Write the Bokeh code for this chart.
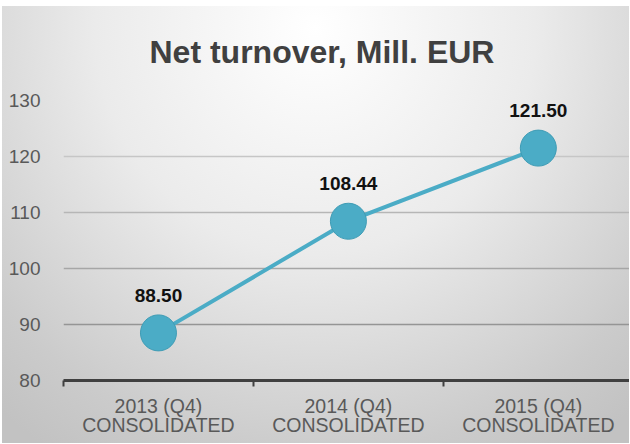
from bokeh.plotting import figure
from bokeh.models import (ColumnDataSource, Range1d, FixedTicker, LabelSet, Title, Grid)
from bokeh.core.properties import value
from bokeh.embed import file_html
from bokeh.resources import INLINE

# ---- data ----
categories = ["2013 (Q4)\nCONSOLIDATED", "2014 (Q4)\nCONSOLIDATED", "2015 (Q4)\nCONSOLIDATED"]
values = [88.50, 108.44, 121.50]
y_ticks = [80, 90, 100, 110, 120, 130]
title_text = "Net turnover, Mill. EUR"

xs = [i + 0.5 for i in range(len(categories))]
labels = [f"{v:.2f}" for v in values]
src = ColumnDataSource(dict(x=xs, y=values, label=labels))

FONT = "Liberation Sans"

p = figure(width=629, height=443, output_backend="svg", toolbar_location=None,
           x_range=Range1d(0, 2.98), y_range=Range1d(80, 130),
           min_border_left=63, min_border_right=0, min_border_bottom=63,
           min_border_top=99)
p.title = None
t = Title(text=title_text, align="left", text_font=FONT, text_font_size="32px",
          text_font_style="bold", text_color="#404040", standoff=62, offset=86)
p.add_layout(t, "above")

p.background_fill_alpha = 0
p.border_fill_alpha = 0
p.outline_line_color = None
p.styles = {
    "background": "radial-gradient(ellipse 78% 115% at 50% 5%, #ffffff 0%, #ebebeb 45%, #cbcbcb 85%, #c2c2c2 100%) 2px 6px / calc(100% - 2px) calc(100% - 6px) no-repeat, #ffffff",
}

# grid: one line per tick, darker toward the bottom as in the reference
p.xgrid.visible = False
p.ygrid.visible = False
grid_colors = {90: "#959595", 100: "#a6a6a6", 110: "#b6b6b6", 120: "#c6c6c6", 130: "#d6d6d6"}
for tk in y_ticks[1:]:
    g = Grid(dimension=1, ticker=FixedTicker(ticks=[tk]),
             grid_line_color=grid_colors[tk], grid_line_width=1.5)
    p.add_layout(g, "center")

# x axis
xa = p.xaxis[0]
xa.ticker = FixedTicker(ticks=xs, minor_ticks=[0, 1, 2])
xa.major_label_overrides = {x: c for x, c in zip(xs, categories)}
xa.major_tick_out = 0
xa.major_tick_in = 0
xa.minor_tick_out = 6
xa.minor_tick_in = 0
xa.minor_tick_line_width = 2
xa.minor_tick_line_color = "#404040"
xa.axis_line_width = 3
xa.axis_line_color = "#404040"
xa.major_label_text_font = FONT
xa.major_label_text_font_size = "19.5px"
xa.major_label_text_color = "#595959"
xa.major_label_text_line_height = 0.9
xa.major_label_standoff = 8

# y axis
ya = p.yaxis[0]
ya.ticker = FixedTicker(ticks=y_ticks)
ya.axis_line_color = None
ya.major_tick_line_color = None
ya.minor_tick_line_color = None
ya.major_label_text_font = FONT
ya.major_label_text_font_size = "19px"
ya.major_label_text_color = "#595959"
ya.major_label_standoff = 17

# series
p.line("x", "y", source=src, line_color="#4bacc6", line_width=4)
p.scatter("x", "y", source=src, size=36, fill_color="#4bacc6", line_color="#3f9cb5", line_width=1)

ls = LabelSet(x="x", y="y", text="label", source=src, y_offset=31,
              text_align="center", text_baseline="alphabetic",
              text_font=value(FONT), text_font_size=value("19px"), text_font_style="bold",
              text_color="#111111")
p.add_layout(ls)

open("out.html", "w").write(file_html(p, INLINE))
